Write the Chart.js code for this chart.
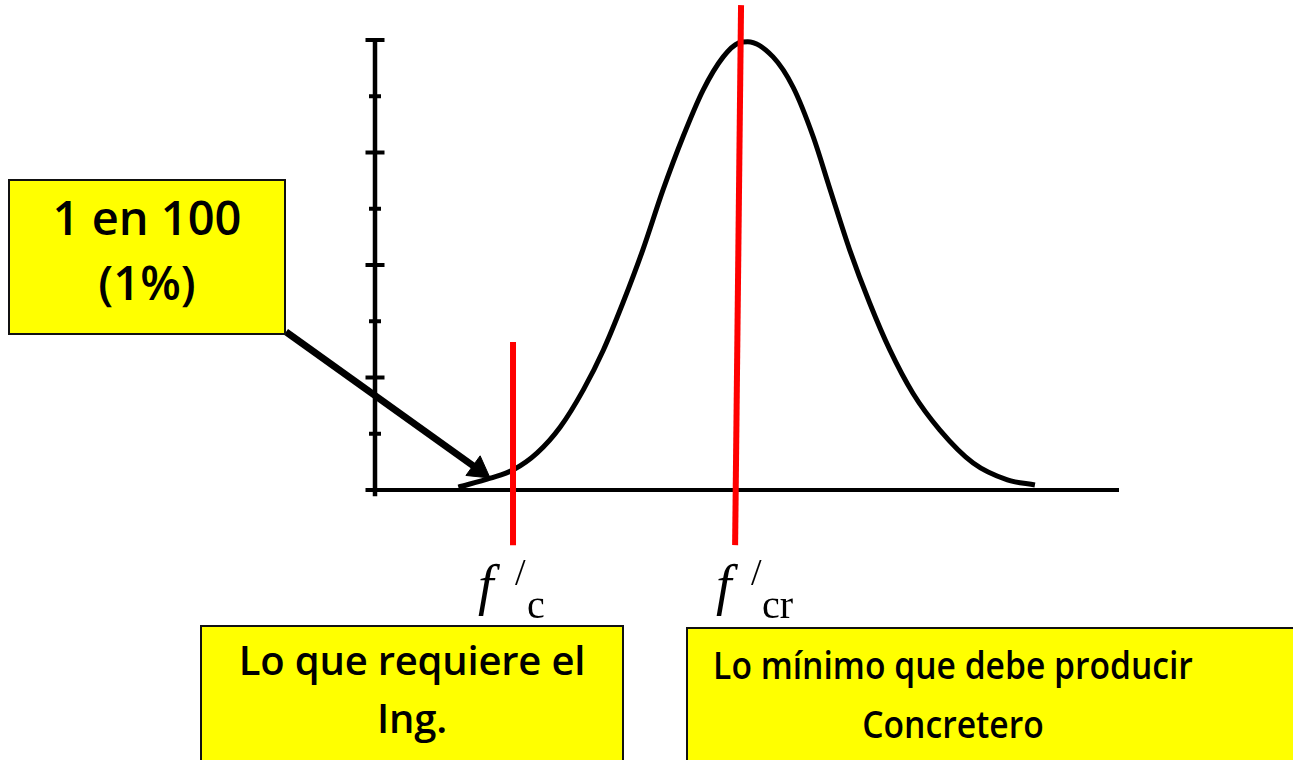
<!DOCTYPE html>
<html lang="es">

<head>
    <meta charset="UTF-8">
    <title>Distribución normal - f'c y f'cr</title>
    <script src="https://cdn.jsdelivr.net/npm/chart.js"></script>
    <style>
        body { margin: 0; background: #fff; overflow: hidden; }
        #marco { position: relative; width: 1293px; height: 760px; overflow: hidden; }
        #grafico { position: absolute; left: 0; top: 0; }
        .caja {
            position: absolute; box-sizing: border-box; background: #ffff00;
            border: 2px solid #111; text-align: center; color: #000;
            font-family: "Open Sans", Lato, sans-serif; font-weight: 600;
        }
        .etiqueta { position: absolute; font-family: "Liberation Serif", "DejaVu Serif", serif; color: #000; line-height: 0; white-space: nowrap; }
        .etiqueta span { position: absolute; }
        .f { font-style: italic; font-size: 56px; }
        .prima { font-size: 38px; }
        .sub { font-size: 40px; }
    </style>
</head>

<body>
    <div id="marco">
        <canvas id="grafico" width="1293" height="760"></canvas>

        <div class="caja" style="left: 8px; top: 179px; width: 278px; height: 156px; font-size: 47px; line-height: 65px; padding-top: 4px;">1 en 100<br>(1%)</div>
        <div class="caja" style="left: 200px; top: 625px; width: 424px; height: 160px; font-size: 40px; line-height: 58px; padding-top: 4px; letter-spacing: -0.2px;">Lo que requiere el<br>Ing.</div>
        <div class="caja" style="left: 686px; top: 627px; width: 640px; height: 160px; font-size: 38px; line-height: 59px; padding-top: 6px; text-align: left;">
            <div style="width: 600px; margin-left: -35px; white-space: nowrap; text-align: center; transform: scaleX(0.885);">Lo mínimo que debe producir<br>Concretero</div>
        </div>

        <!-- f'c y f'cr -->
        <div class="etiqueta" style="left: 0; top: 0;">
            <span class="f" style="left: 478px; top: 585px;">f</span>
            <span class="prima" style="left: 515px; top: 572px;">/</span>
            <span class="sub" style="left: 527px; top: 605px;">c</span>

            <span class="f" style="left: 716px; top: 585px;">f</span>
            <span class="prima" style="left: 751px; top: 572px;">/</span>
            <span class="sub" style="left: 762px; top: 605px;">cr</span>
        </div>
    </div>

    <script>
        // Curva (x: 0..100 sobre el eje horizontal, y: 0..8 divisiones del eje vertical)
        var curvaX = [11.2, 15.5, 18.6, 21.8, 24.9, 28.0, 30.7, 33.3, 36.0, 38.7, 41.4, 44.1, 46.8, 48.9, 50.1,
                      53.5, 56.2, 58.9, 61.2, 63.8, 66.5, 69.2, 72.3, 75.9, 80.4, 85.0, 88.7];
        var curvaY = [0.05, 0.21, 0.36, 0.66, 1.12, 1.78, 2.49, 3.32, 4.27, 5.33, 6.28, 7.11, 7.70, 7.95, 7.97,
                      7.70, 7.16, 6.28, 5.33, 4.27, 3.32, 2.49, 1.72, 1.07, 0.48, 0.18, 0.09];

        // Marcas del eje vertical
        var marcasMayores = [0, 2, 4, 6, 8];
        var marcasMenores = [1, 3, 5, 7];

        // Líneas rojas: f'c y f'cr
        var lineaFcX = [18.55, 18.55];
        var lineaFcY = [2.63, -0.98];
        var lineaFcrX = [49.2, 48.4];
        var lineaFcrY = [8.62, -0.98];

        // Flecha desde la caja "1 en 100"
        var flechaX = [-11.96, 13.94];
        var flechaY = [2.81, 0.36];

        function puntos(xs, ys) {
            var p = [];
            for (var i = 0; i < xs.length; i++) {
                p.push({ x: xs[i], y: ys[i] });
            }
            return p;
        }

        var ctx = document.getElementById('grafico').getContext('2d');
        var grafico = new Chart(ctx, {
            type: 'scatter',
            data: {
                datasets: [{
                    label: 'Flecha',
                    data: puntos(flechaX, flechaY),
                    showLine: true,
                    borderColor: '#000',
                    borderWidth: 7,
                    pointRadius: 0,
                    clip: false,
                    order: 0
                }, {
                    label: 'Punta',
                    data: [{ x: flechaX[1], y: flechaY[1] }],
                    pointStyle: 'triangle',
                    rotation: 125.9,
                    pointRadius: 14,
                    backgroundColor: '#000',
                    borderColor: '#000',
                    borderWidth: 1,
                    clip: false,
                    order: 0
                }, {
                    label: "f'c",
                    data: puntos(lineaFcX, lineaFcY),
                    showLine: true,
                    borderColor: '#ff0000',
                    borderWidth: 6,
                    pointRadius: 0,
                    clip: false,
                    order: 1
                }, {
                    label: "f'cr",
                    data: puntos(lineaFcrX, lineaFcrY),
                    showLine: true,
                    borderColor: '#ff0000',
                    borderWidth: 6,
                    pointRadius: 0,
                    clip: false,
                    order: 1
                }, {
                    label: 'Distribución',
                    data: puntos(curvaX, curvaY),
                    showLine: true,
                    borderColor: '#000',
                    borderWidth: 5,
                    pointRadius: 0,
                    cubicInterpolationMode: 'monotone',
                    clip: false,
                    order: 2
                }, {
                    label: 'Eje X',
                    data: [{ x: 0, y: 0 }, { x: 100, y: 0 }],
                    showLine: true,
                    borderColor: '#000',
                    borderWidth: 4,
                    pointRadius: 0,
                    clip: false,
                    order: 3
                }, {
                    label: 'Eje Y',
                    data: [{ x: 0, y: -0.11 }, { x: 0, y: 8 }],
                    showLine: true,
                    borderColor: '#000',
                    borderWidth: 4.5,
                    pointRadius: 0,
                    clip: false,
                    order: 3
                }, {
                    label: 'Marcas mayores',
                    data: marcasMayores.map(function (v) { return { x: 0, y: v }; }),
                    pointStyle: 'line',
                    pointRadius: 9.5,
                    borderColor: '#000',
                    borderWidth: 4,
                    clip: false,
                    order: 3
                }, {
                    label: 'Marcas menores',
                    data: marcasMenores.map(function (v) { return { x: 0, y: v }; }),
                    pointStyle: 'line',
                    pointRadius: 6,
                    borderColor: '#000',
                    borderWidth: 4,
                    clip: false,
                    order: 3
                }]
            },
            options: {
                responsive: false,
                animation: false,
                layout: {
                    autoPadding: false,
                    padding: { left: 375, right: 174, top: 0.625, bottom: 213.75 }
                },
                plugins: {
                    legend: { display: false },
                    tooltip: { enabled: false }
                },
                scales: {
                    x: { type: 'linear', min: 0, max: 100, display: false },
                    y: { type: 'linear', min: -1, max: 8.7, display: false }
                }
            }
        });
    </script>
</body>

</html>
